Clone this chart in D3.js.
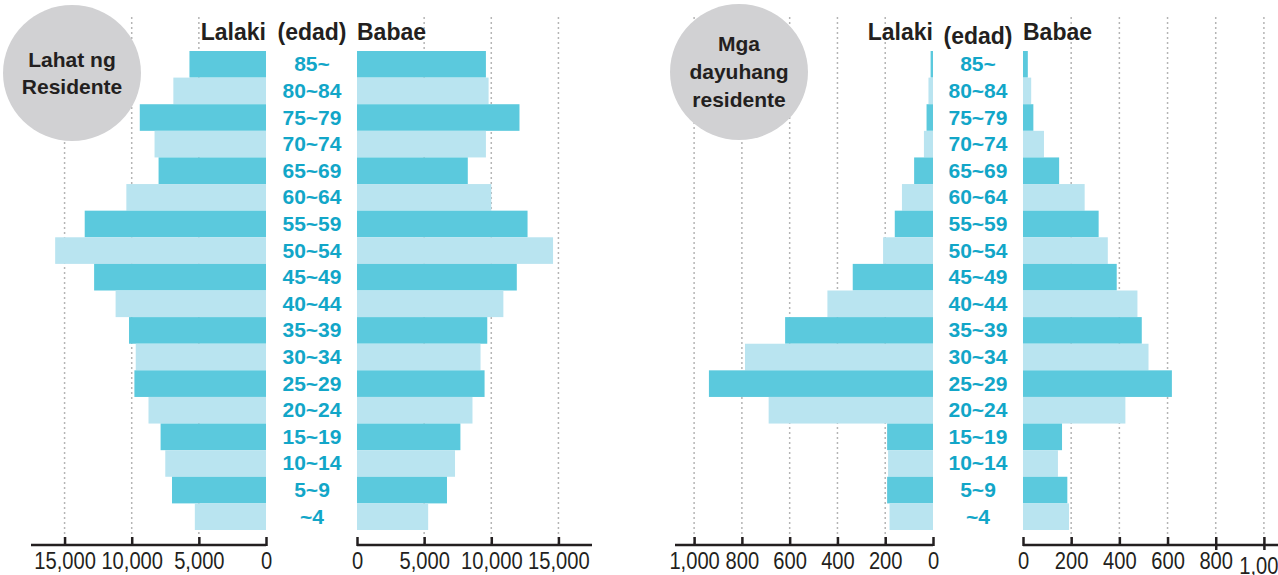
<!DOCTYPE html>
<html>
<head>
<meta charset="utf-8">
<script src="https://cdn.jsdelivr.net/npm/d3@7.9.0/dist/d3.min.js"></script>
<style>
  html, body { margin: 0; padding: 0; background: #fff; }
  svg { display: block; }
  .tick-label { font-family: "Liberation Sans", Arial, sans-serif; font-size: 24px; fill: #231f20; }
  .age { font-family: "Liberation Sans", Arial, sans-serif; font-weight: bold; font-size: 21px; fill: #12a6c8; }
  .head { font-family: "Liberation Sans", Arial, sans-serif; font-weight: bold; font-size: 23px; fill: #231f20; }
  .badge { font-family: "Liberation Sans", Arial, sans-serif; font-weight: bold; font-size: 21px; fill: #231f20; }
</style>
</head>
<body>
<svg id="chart" width="1278" height="575"></svg>
<script>
// age groups, top to bottom
const ages = ['85~', '80~84', '75~79', '70~74', '65~69', '60~64', '55~59', '50~54', '45~49',
  '40~44', '35~39', '30~34', '25~29', '20~24', '15~19', '10~14', '5~9', '~4'];

// all residents
const allMale = [5700, 6900, 9400, 8300, 8000, 10400, 13500, 15700, 12800,
  11200, 10200, 9700, 9800, 8750, 7850, 7500, 7000, 5300];
const allFemale = [9600, 9800, 12100, 9600, 8250, 10000, 12700, 14600, 11900,
  10900, 9700, 9200, 9500, 8600, 7700, 7300, 6700, 5300];

// foreign residents
const forMale = [10, 19, 27, 38, 79, 130, 160, 209, 336,
  442, 619, 787, 938, 688, 192, 188, 192, 182];
const forFemale = [20, 34, 43, 87, 150, 256, 314, 352, 389,
  475, 493, 521, 618, 425, 162, 145, 184, 191];

const allTicks = [0, 5000, 10000, 15000];
const forTicks = [0, 200, 400, 600, 800, 1000];

const darkCol = '#5bc9dd';
const lightCol = '#b9e4f0';
const gridTop = 17;
const axisY = 545;

const svg = d3.select('#chart');
const fmt = d3.format(',');

const y = d3.scaleBand().domain(ages).range([51, 530]).padding(0);

function drawPanel(opt) {
  const g = svg.append('g');

  // gridlines
  const grid = g.append('g');
  [opt.xm, opt.xf].forEach(sc => {
    opt.ticks.filter(t => t > 0).forEach(t => {
      grid.append('line')
        .attr('x1', sc(t)).attr('x2', sc(t))
        .attr('y1', gridTop).attr('y2', axisY)
        .attr('stroke', '#b5b5b5')
        .attr('stroke-width', 1.5)
        .attr('stroke-dasharray', '2,3');
    });
  });

  // badge circle
  g.append('ellipse')
    .attr('cx', opt.badge.cx).attr('cy', opt.badge.cy)
    .attr('rx', 69).attr('ry', 68)
    .attr('fill', '#d1d1d3');
  opt.badge.lines.forEach((t, i) => {
    g.append('text').attr('class', 'badge')
      .attr('x', opt.badge.cx)
      .attr('y', opt.badge.y0 + i * opt.badge.dy)
      .attr('text-anchor', 'middle')
      .text(t);
  });

  // bars
  g.append('g').selectAll('rect')
    .data(opt.male)
    .join('rect')
    .attr('x', d => opt.xm(d))
    .attr('y', (d, i) => y(ages[i]))
    .attr('width', d => opt.xm(0) - opt.xm(d))
    .attr('height', y.bandwidth())
    .attr('fill', (d, i) => i % 2 === 0 ? darkCol : lightCol);

  g.append('g').selectAll('rect')
    .data(opt.female)
    .join('rect')
    .attr('x', opt.xf(0))
    .attr('y', (d, i) => y(ages[i]))
    .attr('width', d => opt.xf(d) - opt.xf(0))
    .attr('height', y.bandwidth())
    .attr('fill', (d, i) => i % 2 === 0 ? darkCol : lightCol);

  // age labels
  g.append('g').selectAll('text')
    .data(ages)
    .join('text')
    .attr('class', 'age')
    .attr('x', opt.mid)
    .attr('y', d => y(d) + y.bandwidth() / 2 + 7)
    .attr('text-anchor', 'middle')
    .text(d => d);

  // headers
  g.append('text').attr('class', 'head')
    .attr('x', opt.xm(0)).attr('y', 40).attr('text-anchor', 'end').text('Lalaki');
  g.append('text').attr('class', 'head')
    .attr('x', opt.mid).attr('y', 40 + opt.edadShift).attr('text-anchor', 'middle').text('(edad)');
  g.append('text').attr('class', 'head')
    .attr('x', opt.xf(0)).attr('y', 40).attr('text-anchor', 'start').text('Babae');

  // axes
  [opt.xm, opt.xf].forEach((sc, k) => {
    const ax = d3.axisBottom(sc).tickValues(opt.ticks).tickSize(0).tickFormat(fmt);
    const a = g.append('g').attr('transform', `translate(0,${axisY})`).call(ax);
    a.select('.domain').remove();
    a.append('line')
      .attr('x1', sc.range()[0]).attr('x2', sc.range()[1])
      .attr('stroke', '#231f20').attr('stroke-width', 2.5);
    a.selectAll('.tick').append('line')
      .attr('y1', -8).attr('y2', d => (k === 1 && opt.longTick && d >= 800) ? 5 : 1)
      .attr('stroke', '#231f20').attr('stroke-width', 2.5);
    a.selectAll('.tick text')
      .attr('class', 'tick-label')
      .attr('fill', null)
      .attr('y', d => (k === 1 && opt.longTick && d === 1000) ? 12 : 7)
      .attr('dy', '0.71em')
      .attr('transform', 'scale(0.84,1)');
  });
}

drawPanel({
  xm: d3.scaleLinear().domain([0, 17500]).range([266, 31]),
  xf: d3.scaleLinear().domain([0, 17500]).range([357, 592]),
  ticks: allTicks,
  male: allMale,
  female: allFemale,
  mid: 312,
  edadShift: 0,
  longTick: false,
  badge: { cx: 72, cy: 73, y0: 67, dy: 27, lines: ['Lahat ng', 'Residente'] }
});

drawPanel({
  xm: d3.scaleLinear().domain([0, 1080]).range([933, 675]),
  xf: d3.scaleLinear().domain([0, 1100]).range([1023, 1288]),
  ticks: forTicks,
  male: forMale,
  female: forFemale,
  mid: 978,
  edadShift: 4,
  longTick: true,
  badge: { cx: 739, cy: 72, y0: 51, dy: 28, lines: ['Mga', 'dayuhang', 'residente'] }
});
</script>
</body>
</html>
